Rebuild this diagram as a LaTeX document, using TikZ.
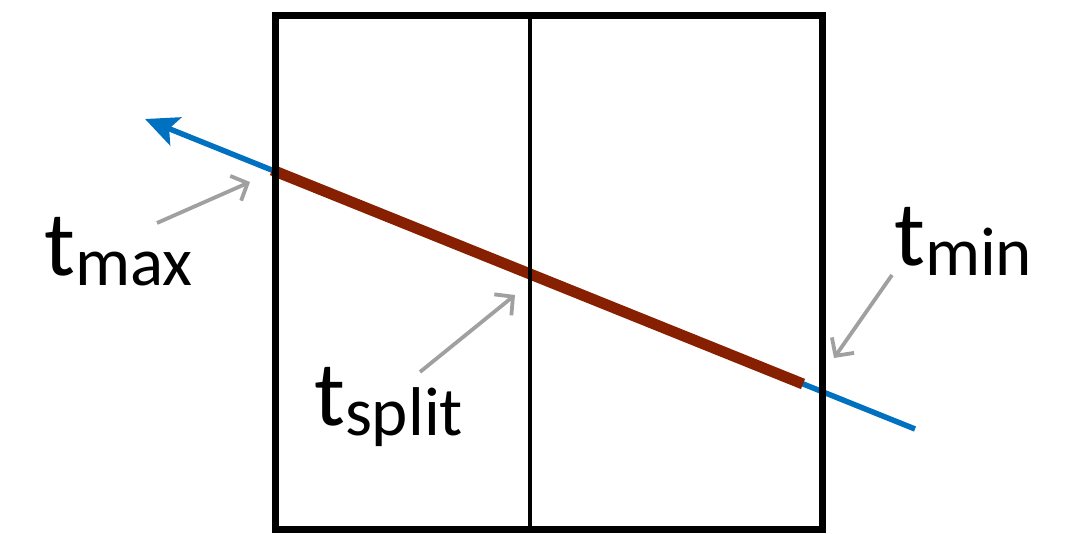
\documentclass[tikz,border=0pt]{standalone}
\usepackage{fontspec}
\setmainfont{Carlito}
\usetikzlibrary{arrows.meta}
\definecolor{rayblue}{RGB}{0,112,192}
\definecolor{segbrown}{RGB}{135,32,0}
\definecolor{pointgray}{RGB}{160,160,160}
\tikzset{
  boxline/.style={line width=7pt, black},
  splitline/.style={line width=4pt, black},
  ray/.style={line width=5.5pt, rayblue, -{Stealth[length=33pt, width=30pt, inset=7pt]}},
  seg/.style={line width=11pt, segbrown},
  pointer/.style={line width=3.8pt, pointgray, -{Straight Barb[length=13pt, width=27pt, line width=3.8pt]}},
  lbl/.style={inner sep=0pt, anchor=base west, font=\fontsize{92}{92}\selectfont}
}
\newcommand{\subtxt}[1]{{\fontsize{69}{69}\selectfont\raisebox{-10pt}{#1}}}
\begin{document}
\begin{tikzpicture}[x=1pt, y=-1pt]
\useasboundingbox (0,0) rectangle (1072,534);
% ray and segment
\coordinate (rayend) at (915,429);
\coordinate (raytip) at (145,119);
\coordinate (segA) at (272,170);
\coordinate (segB) at (803,384);
\draw[ray] (rayend) -- (raytip);
\draw[seg] (segA) -- (segB);
% box
\draw[splitline] (529.5,16) -- (529.5,530);
\draw[boxline] (275.5,16) rectangle (822,530);
% labels
\node[lbl] (tmax) at (44,276) {t\subtxt{max}};
\node[lbl] (tmin) at (894,266) {t\subtxt{min}};
\node[lbl] (tsplit) at (314,426) {t\subtxt{split}};
% pointers
\coordinate (pmaxS) at (157,223);
\coordinate (pmaxE) at (250,182);
\coordinate (pminS) at (892,275);
\coordinate (pminE) at (834,358);
\coordinate (psplitS) at (420,372);
\coordinate (psplitE) at (515,295);
\draw[pointer] (pmaxS) -- (pmaxE);
\draw[pointer] (pminS) -- (pminE);
\draw[pointer] (psplitS) -- (psplitE);
\end{tikzpicture}
\end{document}
